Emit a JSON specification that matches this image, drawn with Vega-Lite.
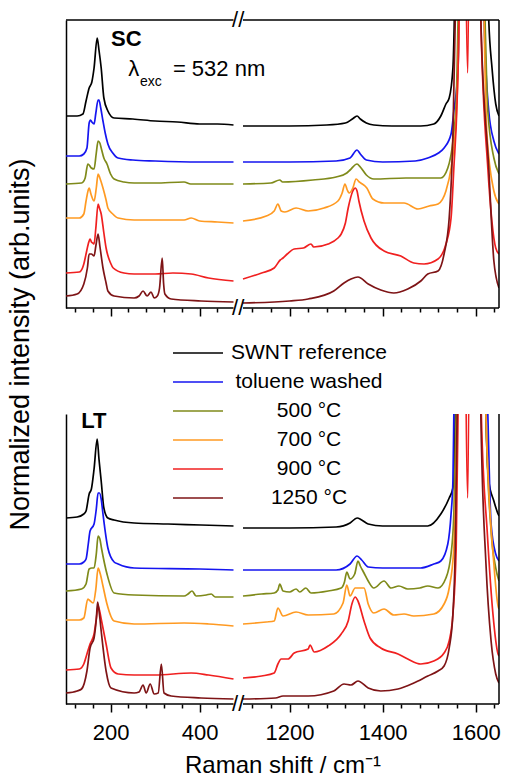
{
"$schema": "https://vega.github.io/schema/vega-lite/v6.json",
"padding": {"left": 6, "top": 9, "right": 4, "bottom": 0},
"config": {"font": "Liberation Sans", "view": {"stroke": null}, "axis": {"grid": false}, "text": {"color": "#000"}},
"datasets": {"spectra": [
{"p":"SC","s":"SWNT reference","g":1,"x":[100,125,138,145,152,158,163,170,174,179,185,194,208,250,300,350,400,440,476],"y":[192,192,194,207,220,226,240,270,258,240,210,197,190,189,187,186,184,184,183]},
{"p":"SC","s":"SWNT reference","g":2,"x":[1100,1200,1280,1320,1335,1345,1352,1365,1381,1420,1482,1510,1525,1536,1543,1551,1554,1560,1572,1582,1592,1615,1628,1635,1643,1650],"y":[182,182,183,185,189,192,189,185,183,182,182,184,192,204,210,240,288,520,700,650,800,600,288,240,204,192]},
{"p":"SC","s":"toluene washed","g":1,"x":[100,130,140,147,152,155,158,163,167,172,174,178,183,188,194,205,217,250,300,400,476],"y":[152,152,154,160,185,188,186,184,195,208,208,200,187,175,164,155,150,148,147,146,146]},
{"p":"SC","s":"toluene washed","g":2,"x":[1100,1200,1300,1330,1345,1352,1365,1400,1470,1497,1520,1532,1547,1553,1562,1564,1570,1582,1592,1610,1618,1628,1639,1650],"y":[146,146,147,150,158,154,148,146,147,150,155,160,174,197,240,288,600,550,700,500,288,197,167,154]},
{"p":"SC","s":"500 °C","g":1,"x":[100,135,143,149,152,157,163,168,172,176,179,185,192,200,208,230,253,300,365,380,420,476],"y":[124,125,130,144,143,140,139,155,167,165,160,150,144,134,129,126,125,125,126,124,124,124]},
{"p":"SC","s":"500 °C","g":2,"x":[1100,1160,1179,1185,1250,1300,1323,1330,1345,1352,1365,1381,1450,1525,1540,1551,1558,1562,1570,1582,1592,1610,1620,1626,1639,1650],"y":[124,125,128,126,128,131,135,138,144,141,133,129,130,130,140,167,207,288,600,500,700,500,288,197,150,134]},
{"p":"SC","s":"700 °C","g":1,"x":[100,130,140,145,150,152,156,163,168,172,176,183,190,194,205,217,253,300,365,381,400,440,476],"y":[90,90,94,107,118,120,114,107,120,134,130,120,108,100,94,90,88,88,88,90,87,86,85]},
{"p":"SC","s":"700 °C","g":2,"x":[1100,1150,1167,1175,1182,1190,1214,1240,1274,1304,1313,1319,1324,1328,1336,1343,1350,1353,1366,1379,1403,1446,1476,1500,1519,1536,1547,1558,1564,1572,1582,1592,1612,1618,1624,1639,1650],"y":[87,92,97,104,97,96,100,97,100,107,115,124,118,115,120,129,126,125,120,109,105,105,99,102,104,117,140,190,288,700,450,800,500,288,174,117,104]},
{"p":"SC","s":"900 °C","g":1,"x":[100,130,140,145,150,154,157,160,163,167,172,175,179,185,190,200,206,230,253,300,340,381,420,476],"y":[35,36,44,54,64,69,66,65,64,80,104,100,94,75,60,45,40,35,34,34,35,34,30,27]},
{"p":"SC","s":"900 °C","g":2,"x":[1100,1140,1167,1180,1186,1195,1210,1230,1246,1252,1283,1304,1311,1320,1326,1336,1341,1345,1349,1360,1375,1403,1439,1467,1489,1519,1536,1547,1553,1560,1564,1570,1583,1592,1608,1611,1626,1643,1650],"y":[29,35,40,48,50,54,59,60,64,61,64,70,74,85,100,117,120,117,107,87,70,57,52,45,44,49,64,90,140,207,288,700,235,800,500,288,140,60,54]},
{"p":"SC","s":"1250 °C","g":1,"x":[100,125,140,148,152,157,163,167,172,176,183,190,194,208,253,264,273,282,291,298,305,310,316,319,322,336,403,476],"y":[12,14,24,40,54,54,52,62,74,62,40,25,17,12,10,12,17,12,16,10,12,20,50,25,14,9,7,6]},
{"p":"SC","s":"1250 °C","g":2,"x":[1100,1200,1240,1295,1317,1332,1347,1369,1396,1424,1454,1482,1497,1519,1532,1543,1551,1556,1568,1582,1592,1605,1611,1628,1639,1650],"y":[5,7,9,17,25,29,31,24,18,15,19,27,34,37,54,90,174,288,700,600,800,500,288,140,47,20]},
{"p":"LT","s":"SWNT reference","g":1,"x":[100,125,140,145,152,157,163,170,174,179,185,194,208,253,329,403,476],"y":[186,187,190,193,210,215,235,265,245,223,196,186,184,181,180,179,178]},
{"p":"LT","s":"SWNT reference","g":2,"x":[1100,1200,1300,1330,1345,1355,1369,1400,1497,1525,1543,1551,1553,1556,1562,1582,1592,1615,1622,1628,1639,1648,1650],"y":[176,176,177,181,186,184,180,178,178,190,206,216,223,290,700,600,800,600,290,223,203,190,188]},
{"p":"LT","s":"toluene washed","g":1,"x":[100,130,140,145,150,154,163,168,172,175,179,183,194,208,217,253,400,476],"y":[140,140,142,145,160,173,180,195,211,211,205,190,156,142,140,136,135,134]},
{"p":"LT","s":"toluene washed","g":2,"x":[1100,1200,1300,1330,1345,1355,1369,1400,1482,1510,1525,1540,1547,1551,1553,1565,1582,1592,1612,1626,1633,1643,1650],"y":[134,134,134,140,148,144,137,136,136,140,143,160,190,223,290,700,600,800,600,290,180,150,143]},
{"p":"LT","s":"500 °C","g":1,"x":[100,135,145,152,158,163,168,172,176,180,192,208,253,365,374,383,392,415,426,435,476],"y":[113,115,120,135,136,136,150,168,165,155,130,111,109,108,110,113,108,109,110,107,107]},
{"p":"LT","s":"500 °C","g":2,"x":[1100,1140,1167,1175,1179,1186,1200,1214,1222,1235,1246,1283,1311,1318,1323,1330,1340,1347,1352,1360,1369,1381,1403,1418,1435,1454,1480,1497,1519,1536,1547,1553,1558,1568,1582,1592,1612,1622,1633,1643,1650],"y":[108,110,111,114,120,113,112,115,112,116,111,113,116,122,132,125,130,143,138,131,123,116,123,116,118,115,116,118,116,126,150,190,290,700,600,800,600,290,173,136,123]},
{"p":"LT","s":"700 °C","g":1,"x":[100,130,140,149,152,161,167,172,177,183,192,208,253,365,420,476],"y":[84,84,86,105,104,101,115,136,130,118,100,83,80,81,80,78]},
{"p":"LT","s":"700 °C","g":2,"x":[1100,1150,1167,1175,1186,1214,1240,1295,1315,1323,1330,1341,1353,1360,1369,1381,1403,1424,1446,1467,1510,1532,1543,1553,1560,1570,1582,1592,1612,1622,1639,1648,1650],"y":[80,82,83,96,88,92,89,90,101,119,108,116,116,116,100,91,95,89,90,88,90,100,116,156,290,700,400,800,600,290,140,98,95]},
{"p":"LT","s":"900 °C","g":1,"x":[100,130,140,147,154,163,168,172,176,179,190,201,217,253,300,381,420,476],"y":[34,35,40,50,60,70,85,98,92,85,60,36,30,29,29,31,29,25]},
{"p":"LT","s":"900 °C","g":2,"x":[1100,1140,1167,1175,1182,1197,1210,1240,1244,1253,1283,1311,1326,1334,1341,1347,1360,1373,1396,1433,1454,1482,1510,1532,1543,1551,1558,1562,1570,1583,1592,1608,1612,1625,1637,1648,1650],"y":[26,28,31,40,45,45,51,55,59,52,58,70,83,100,107,103,83,66,56,50,45,40,43,51,63,90,156,290,700,206,800,500,290,170,90,50,48]},
{"p":"LT","s":"1250 °C","g":1,"x":[100,125,135,147,154,163,168,171,175,179,190,201,253,264,273,280,289,298,307,314,320,336,403,476],"y":[11,13,15,33,56,66,85,102,90,73,33,16,11,12,19,11,20,10,11,40,11,8,6,5]},
{"p":"LT","s":"1250 °C","g":2,"x":[1100,1170,1186,1240,1295,1317,1332,1347,1369,1396,1433,1467,1497,1519,1532,1543,1551,1556,1560,1568,1582,1592,1605,1611,1622,1633,1643,1650],"y":[5,6,8,8,13,20,19,23,16,13,15,21,28,33,38,56,90,156,290,700,600,800,500,290,140,63,30,21]}
]},
"spacing": 106,
"bounds": "flush",
"resolve": {"scale": {"color": "independent", "x": "independent", "y": "independent"}, "legend": {"color": "independent"}},
"vconcat": [
{
"width": 433, "height": 288,
"resolve": {"axis": {"x": "independent", "y": "independent"}},
"layer": [
{"data": {"name": "spectra"}, "transform": [{"filter": "datum.p === 'SC'"}, {"flatten": ["x", "y"]}],
 "mark": {"type": "line", "clip": true, "strokeWidth": 1.7, "interpolate": "monotone"},
 "encoding": {
  "x": {"field": "x", "type": "quantitative", "scale": {"domain": [100, 476, 1100, 1650], "range": [0, 167.5, 177, 433], "nice": false, "zero": false},
        "axis": {"orient": "bottom", "values": [200, 400, 1200, 1400, 1600], "labels": false, "domain": false, "title": null, "tickColor": "#000", "tickWidth": 1.5, "tickSize": 8}},
  "y": {"field": "y", "type": "quantitative", "scale": {"domain": [0, 288], "nice": false, "zero": false},
        "axis": {"domain": true, "domainColor": "#000", "domainWidth": 1.5, "ticks": false, "labels": false, "title": "Normalized intensity (arb.units)", "titleFontSize": 27, "titleFontWeight": "normal", "titleColor": "#000", "titleX": -38, "titleY": 324, "titleAngle": 270, "titleAlign": "center", "titleBaseline": "alphabetic"}},
  "color": {"field": "s", "type": "nominal", "scale": {"domain": ["SWNT reference", "toluene washed", "500 °C", "700 °C", "900 °C", "1250 °C"], "range": ["#000000", "#1515F0", "#7F8A1A", "#FF9A22", "#F02020", "#7E1416"]}, "legend": null},
  "detail": {"field": "g", "type": "nominal"}
 }},
{"data": {"values": [{}]}, "mark": {"type": "rule", "color": "#000", "strokeWidth": 1.5}, "encoding": {"x": {"datum": 100, "axis": {"orient": "bottom", "values": [120,160,240,280,320,360,440,1120,1160,1240,1280,1320,1360,1440,1480,1520,1560,1640], "labels": false, "domain": false, "title": null, "tickColor": "#000", "tickWidth": 1.5, "tickSize": 4}}, "x2": {"datum": 476}, "y": {"datum": 0, "axis": null}}},
{"data": {"values": [{}]}, "mark": {"type": "rule", "color": "#000", "strokeWidth": 1.5}, "encoding": {"x": {"datum": 1100, "axis": null}, "x2": {"datum": 1650}, "y": {"datum": 0, "axis": null}}},
{"data": {"values": [{}]}, "mark": {"type": "rule", "color": "#000", "strokeWidth": 1.5}, "encoding": {"x": {"datum": 100, "axis": null}, "x2": {"datum": 476}, "y": {"datum": 288, "axis": null}}},
{"data": {"values": [{}]}, "mark": {"type": "rule", "color": "#000", "strokeWidth": 1.5}, "encoding": {"x": {"datum": 1100, "axis": null}, "x2": {"datum": 1650}, "y": {"datum": 288, "axis": null}}},
{"data": {"values": [{}]}, "mark": {"type": "rule", "color": "#000", "strokeWidth": 1.5}, "encoding": {"x": {"datum": 1650, "axis": null}, "y": {"datum": 0, "axis": null}, "y2": {"datum": 288}}},
{"data": {"values": [{}]}, "mark": {"type": "text", "text": "//", "fontSize": 22, "align": "center", "baseline": "middle"}, "encoding": {"x": {"datum": 785, "axis": null}, "y": {"datum": 0, "axis": null}}},
{"data": {"values": [{}]}, "mark": {"type": "text", "text": "//", "fontSize": 22, "align": "center", "baseline": "middle"}, "encoding": {"x": {"datum": 785, "axis": null}, "y": {"datum": 288, "axis": null}}},
{"data": {"values": [{}]}, "mark": {"type": "text", "text": "SC", "fontSize": 22, "fontWeight": "bold", "align": "left", "baseline": "middle"}, "encoding": {"x": {"datum": 201, "axis": null}, "y": {"datum": 269, "axis": null}}},
{"data": {"values": [{}]}, "mark": {"type": "text", "text": "λ", "fontSize": 22, "align": "left", "baseline": "middle"}, "encoding": {"x": {"datum": 240, "axis": null}, "y": {"datum": 239, "axis": null}}},
{"data": {"values": [{}]}, "mark": {"type": "text", "text": "exc", "fontSize": 14, "align": "left", "baseline": "middle"}, "encoding": {"x": {"datum": 266, "axis": null}, "y": {"datum": 226, "axis": null}}},
{"data": {"values": [{}]}, "mark": {"type": "text", "text": "= 532 nm", "fontSize": 22, "align": "left", "baseline": "middle"}, "encoding": {"x": {"datum": 340, "axis": null}, "y": {"datum": 239, "axis": null}}}
]
},
{
"width": 433, "height": 290,
"resolve": {"axis": {"x": "independent", "y": "independent"}},
"layer": [
{"data": {"name": "spectra"}, "transform": [{"filter": "datum.p === 'LT'"}, {"flatten": ["x", "y"]}],
 "mark": {"type": "line", "clip": true, "strokeWidth": 1.7, "interpolate": "monotone"},
 "encoding": {
  "x": {"field": "x", "type": "quantitative", "scale": {"domain": [100, 476, 1100, 1650], "range": [0, 167.5, 177, 433], "nice": false, "zero": false},
        "axis": {"orient": "bottom", "values": [200, 400, 1200, 1400, 1600], "format": "d", "labelOverlap": false, "labelFlush": false, "labelFontSize": 22, "labelColor": "#000", "labelPadding": 10, "domain": false, "title": "Raman shift / cm⁻¹", "titleFontSize": 24, "titleFontWeight": "normal", "titleColor": "#000", "titlePadding": 10, "tickColor": "#000", "tickWidth": 1.5, "tickSize": 8}},
  "y": {"field": "y", "type": "quantitative", "scale": {"domain": [0, 290], "nice": false, "zero": false},
        "axis": {"domain": true, "domainColor": "#000", "domainWidth": 1.5, "ticks": false, "labels": false, "title": null}},
  "color": {"field": "s", "type": "nominal", "scale": {"domain": ["SWNT reference", "toluene washed", "500 °C", "700 °C", "900 °C", "1250 °C"], "range": ["#000000", "#1515F0", "#7F8A1A", "#FF9A22", "#F02020", "#7E1416"]},
            "legend": {"orient": "none", "legendX": 121, "legendY": -72, "title": null, "symbolType": "M-2.5,0H2.5", "symbolSize": 400, "symbolStrokeWidth": 1.7, "labelFontSize": 21, "labelColor": "#000", "labelAlign": "center", "labelOffset": 100, "labelLimit": 300, "rowPadding": 8, "padding": 0}},
  "detail": {"field": "g", "type": "nominal"}
 }},
{"data": {"values": [{}]}, "mark": {"type": "rule", "color": "#000", "strokeWidth": 1.5}, "encoding": {"x": {"datum": 100, "axis": {"orient": "bottom", "values": [120,160,240,280,320,360,440,1120,1160,1240,1280,1320,1360,1440,1480,1520,1560,1640], "labels": false, "domain": false, "title": null, "tickColor": "#000", "tickWidth": 1.5, "tickSize": 4}}, "x2": {"datum": 476}, "y": {"datum": 0, "axis": null}}},
{"data": {"values": [{}]}, "mark": {"type": "rule", "color": "#000", "strokeWidth": 1.5}, "encoding": {"x": {"datum": 1100, "axis": null}, "x2": {"datum": 1650}, "y": {"datum": 0, "axis": null}}},
{"data": {"values": [{}]}, "mark": {"type": "rule", "color": "#000", "strokeWidth": 1.5}, "encoding": {"x": {"datum": 1650, "axis": null}, "y": {"datum": 0, "axis": null}, "y2": {"datum": 290}}},
{"data": {"values": [{}]}, "mark": {"type": "text", "text": "//", "fontSize": 22, "align": "center", "baseline": "middle"}, "encoding": {"x": {"datum": 785, "axis": null}, "y": {"datum": 0, "axis": null}}},
{"data": {"values": [{}]}, "mark": {"type": "text", "text": "LT", "fontSize": 22, "fontWeight": "bold", "align": "left", "baseline": "middle"}, "encoding": {"x": {"datum": 134, "axis": null}, "y": {"datum": 283, "axis": null}}}
]
}
]
}
